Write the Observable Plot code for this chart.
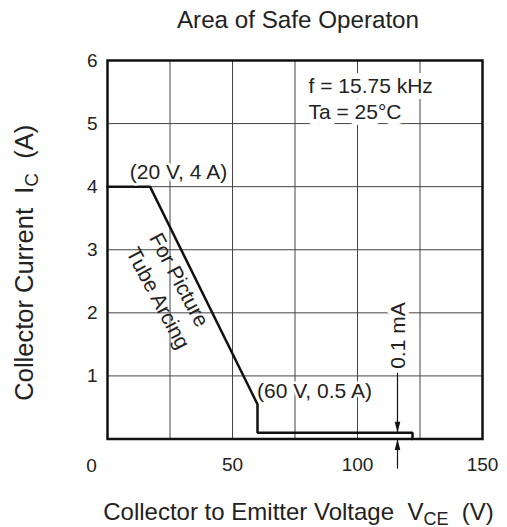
<!DOCTYPE html>
<html><head><meta charset="utf-8">
<script src="https://cdn.jsdelivr.net/npm/d3@7"></script>
<script src="https://cdn.jsdelivr.net/npm/@observablehq/plot@0.6"></script>
<style>
body{margin:0;background:#fff}
svg text{white-space:pre}
</style>
</head><body><div id="chart"></div>
<script>
// ---- data ----
const title = "Area of Safe Operaton";
const xLabelParts = ["Collector to Emitter Voltage  V", "CE", "  (V)"];
const yLabelParts = ["Collector Current  I", "C", "  (A)"];
const xDomain = [0, 150];
const yDomain = [0, 6];
const xTicks = [50, 100, 150];
const yTicks = [1, 2, 3, 4, 5, 6];
const xGrid = [25, 50, 75, 100, 125];
const yGrid = [1, 2, 3, 4, 5];
const cornerLabel = "0";
// safe operating area boundary (V, A)
const soaV = [0, 17, 60, 60, 122, 122];
const soaI = [4, 4, 0.55, 0.1, 0.1, 0];
// annotations
const noteText = ["(20 V, 4 A)", "(60 V, 0.5 A)"];
const noteV = [28.4, 82.8];
const noteI = [4.23, 0.75];
const condText = ["f = 15.75 kHz", "Ta = 25°C"];
const condV = [80.4, 80.4];
const condI = [5.48, 5.07];
const arcText = ["For Picture", "Tube Arcing"];
const arcV = [28.5, 20.1];
const arcI = [2.52, 2.23];
const leakText = "0.1 mA";
const leakV = 116.5;
const leakI = 1.64;
const arrowV = 116;
const arrowUpperFrom = 1.05, arrowUpperTo = 0.1;
const arrowLowerFrom = -0.47, arrowLowerTo = 0;

// ---- build ----
const soa = soaV.map((v, k) => ({v, i: soaI[k]}));
const notes = noteText.map((t, k) => ({t, v: noteV[k], i: noteI[k]}));
const conds = condText.map((t, k) => ({t, v: condV[k], i: condI[k]}));
const arcs = arcText.map((t, k) => ({t, v: arcV[k], i: arcI[k]}));
const shafts = [
  {x1: arrowV, y1: arrowUpperFrom, x2: arrowV, y2: arrowUpperTo},
  {x1: arrowV, y1: arrowLowerFrom, x2: arrowV, y2: arrowLowerTo}
];
const headDown = {draw(ctx) { ctx.moveTo(0, 0); ctx.lineTo(-2.8, -11); ctx.lineTo(2.8, -11); ctx.closePath(); }};
const headUp = {draw(ctx) { ctx.moveTo(0, 0); ctx.lineTo(-2.8, 11); ctx.lineTo(2.8, 11); ctx.closePath(); }};

const ink = "#111";
const textInk = "#222";
const font = "'Liberation Sans', Arial, Helvetica, sans-serif";

const chart = Plot.plot({
  width: 507,
  height: 527,
  marginLeft: 107,
  marginRight: 25,
  marginTop: 60,
  marginBottom: 88.5,
  style: {fontFamily: font, fontSize: "19px", color: textInk, background: "#fff"},
  x: {domain: xDomain},
  y: {domain: yDomain},
  marks: [
    Plot.gridX(xGrid, {stroke: "#444", strokeOpacity: 1, strokeWidth: 1}),
    Plot.gridY(yGrid, {stroke: "#444", strokeOpacity: 1, strokeWidth: 1}),
    Plot.axisX(xTicks, {tickSize: 0, tickPadding: 18.5, fontSize: 19, label: null, fill: textInk, tickFormat: d3.format("d")}),
    Plot.axisY(yTicks, {tickSize: 0, tickPadding: 10, fontSize: 19, label: null, fill: textInk, tickFormat: d3.format("d")}),
    Plot.text([cornerLabel], {x: xDomain[0], y: yDomain[0], text: d => d, dx: -16, dy: 26.5, fontSize: 19, fill: textInk}),
    Plot.frame({stroke: ink, strokeWidth: 2.5}),
    Plot.line(soa, {x: "v", y: "i", stroke: ink, strokeWidth: 2.5, strokeLinejoin: "miter"}),
    Plot.text(notes, {x: "v", y: "i", text: "t", fontSize: 21, fill: textInk, stroke: "#fff", strokeWidth: 5}),
    Plot.text(conds, {x: "v", y: "i", text: "t", textAnchor: "start", lineAnchor: "bottom", fontSize: 21, fill: textInk, stroke: "#fff", strokeWidth: 12}),
    Plot.text(arcs, {x: "v", y: "i", text: "t", rotate: 62, fontSize: 21, fill: textInk}),
    Plot.text([leakText], {x: leakV, y: leakI, text: d => d, rotate: -90, fontSize: 21, fill: textInk, stroke: "#fff", strokeWidth: 8}),
    Plot.link(shafts, {x1: "x1", y1: "y1", x2: "x2", y2: "y2", stroke: ink, strokeWidth: 1.2}),
    Plot.dot([{x: arrowV, y: arrowUpperTo}], {x: "x", y: "y", symbol: headDown, fill: ink, stroke: "none"}),
    Plot.dot([{x: arrowV, y: arrowLowerTo}], {x: "x", y: "y", symbol: headUp, fill: ink, stroke: "none"}),
    Plot.text([title], {frameAnchor: "top", text: d => d, dx: 3, dy: -33, lineAnchor: "bottom", fontSize: 24.2, fill: textInk}),
    Plot.text([xLabelParts.join("")], {frameAnchor: "bottom", text: d => d, textAnchor: "middle", dx: 3.5, dy: 80.5, lineAnchor: "bottom", fontSize: 24, fill: textInk}),
    Plot.text([yLabelParts.join("")], {frameAnchor: "left", text: d => d, textAnchor: "middle", rotate: -90, dx: -75, dy: 13, lineAnchor: "bottom", fontSize: 25.5, fill: textInk})
  ]
});

function subscriptify(parts, size) {
  const full = parts.join("");
  d3.select(chart).selectAll("text").filter(function() { return this.textContent === full; }).each(function() {
    const t = d3.select(this);
    t.text(null);
    t.append("tspan").text(parts[0]);
    t.append("tspan").attr("dy", 5).attr("font-size", size).text(parts[1]);
    t.append("tspan").attr("dy", -5).text(parts[2]);
  });
}
subscriptify(xLabelParts, 18);
subscriptify(yLabelParts, 19);

document.getElementById("chart").append(chart);
</script>
</body></html>
